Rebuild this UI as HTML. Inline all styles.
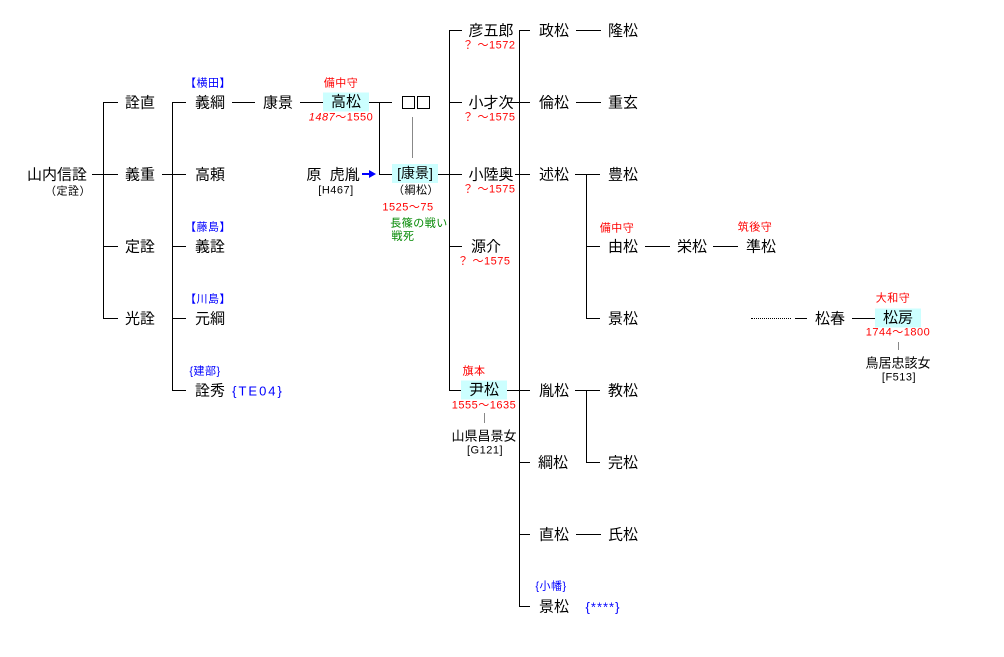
<!DOCTYPE html>
<html><head><meta charset="utf-8"><style>
body{margin:0;width:1004px;height:657px;background:#fff;position:relative;overflow:hidden;font-family:"Liberation Sans","Noto Sans CJK JP",sans-serif;}
.t{position:absolute;transform:translate(-50%,-50%);white-space:nowrap;font-size:15px;color:#000;line-height:1;}
.s{font-size:11px;letter-spacing:0.5px;}
.r{color:#f00;}
.b{color:#00f;}
.g{color:#080;}
.bx{background:#ccffff;padding:2px 0;width:46px;text-align:center;}
.h{position:absolute;height:1px;background:#000;}
.v{position:absolute;width:1px;background:#000;}
.gr{background:#888;}
.sq{position:absolute;width:11px;height:11px;border:1px solid #000;}
</style></head><body>
<div class="h" style="left:92px;top:174px;width:26px"></div>
<div class="v" style="left:103px;top:102px;height:217px"></div>
<div class="h" style="left:103px;top:102px;width:15px"></div>
<div class="h" style="left:103px;top:246px;width:15px"></div>
<div class="h" style="left:103px;top:318px;width:15px"></div>
<div class="h" style="left:162px;top:174px;width:24px"></div>
<div class="v" style="left:172px;top:102px;height:289px"></div>
<div class="h" style="left:172px;top:102px;width:14px"></div>
<div class="h" style="left:172px;top:246px;width:14px"></div>
<div class="h" style="left:172px;top:318px;width:14px"></div>
<div class="h" style="left:172px;top:390px;width:14px"></div>
<div class="h" style="left:232px;top:102px;width:23px"></div>
<div class="h" style="left:300px;top:102px;width:23px"></div>
<div class="h" style="left:369px;top:102px;width:23px"></div>
<div class="v" style="left:379px;top:102px;height:72px"></div>
<div class="h" style="left:379px;top:174px;width:13px"></div>
<div class="v gr" style="left:412px;top:117px;height:41px"></div>
<div class="h" style="left:362px;top:173px;width:8px;background:#00f;height:2px"></div>
<div style="position:absolute;left:369px;top:170px;width:0;height:0;border-left:7px solid #00f;border-top:4px solid transparent;border-bottom:4px solid transparent"></div>
<div class="h" style="left:438px;top:174px;width:24px"></div>
<div class="v" style="left:449px;top:30px;height:361px"></div>
<div class="h" style="left:449px;top:30px;width:13px"></div>
<div class="h" style="left:449px;top:102px;width:13px"></div>
<div class="h" style="left:449px;top:246px;width:13px"></div>
<div class="h" style="left:449px;top:390px;width:13px"></div>
<div class="v gr" style="left:484px;top:413px;height:10px"></div>
<div class="v" style="left:519px;top:30px;height:577px"></div>
<div class="h" style="left:519px;top:30px;width:11px"></div>
<div class="h" style="left:507px;top:102px;width:23px"></div>
<div class="h" style="left:515px;top:174px;width:15px"></div>
<div class="h" style="left:507px;top:390px;width:23px"></div>
<div class="h" style="left:519px;top:462px;width:11px"></div>
<div class="h" style="left:519px;top:534px;width:11px"></div>
<div class="h" style="left:519px;top:606px;width:11px"></div>
<div class="h" style="left:576px;top:30px;width:25px"></div>
<div class="h" style="left:576px;top:102px;width:25px"></div>
<div class="h" style="left:575px;top:174px;width:25px"></div>
<div class="v" style="left:586px;top:174px;height:145px"></div>
<div class="h" style="left:586px;top:246px;width:14px"></div>
<div class="h" style="left:586px;top:318px;width:14px"></div>
<div class="h" style="left:575px;top:390px;width:25px"></div>
<div class="v" style="left:586px;top:390px;height:73px"></div>
<div class="h" style="left:586px;top:462px;width:14px"></div>
<div class="h" style="left:576px;top:534px;width:25px"></div>
<div class="h" style="left:645px;top:246px;width:25px"></div>
<div class="h" style="left:713px;top:246px;width:25px"></div>
<div style="position:absolute;left:751px;top:318px;width:40px;border-top:1px dotted #000"></div>
<div class="h" style="left:795px;top:318px;width:12px"></div>
<div class="h" style="left:852px;top:318px;width:23px"></div>
<div class="v gr" style="left:898px;top:342px;height:8px"></div>
<div class="t" style="left:57px;top:175px">山内信詮</div>
<div class="t s" style="left:68px;top:192px">（定詮）</div>
<div class="t" style="left:140px;top:103px">詮直</div>
<div class="t" style="left:140px;top:175px">義重</div>
<div class="t" style="left:140px;top:247px">定詮</div>
<div class="t" style="left:140px;top:319px">光詮</div>
<div class="t s b" style="left:208px;top:84px">【横田】</div>
<div class="t" style="left:210px;top:103px">義綱</div>
<div class="t" style="left:210px;top:175px">高頼</div>
<div class="t s b" style="left:208px;top:228px">【藤島】</div>
<div class="t" style="left:210px;top:247px">義詮</div>
<div class="t s b" style="left:208px;top:300px">【川島】</div>
<div class="t" style="left:210px;top:319px">元綱</div>
<div class="t s b" style="left:205px;top:372px">{建部}</div>
<div class="t" style="left:210px;top:391px">詮秀</div>
<div class="t b" style="left:258px;top:391px;font-size:13px;letter-spacing:2px">{TE04}</div>
<div class="t" style="left:278px;top:103px">康景</div>
<div class="t s r" style="left:341px;top:84px">備中守</div>
<div class="t bx" style="left:346px;top:102px">高松</div>
<div class="t s r" style="left:341px;top:118px"><i>1487</i>〜1550</div>
<div class="sq" style="left:402px;top:96px"></div>
<div class="sq" style="left:417px;top:96px"></div>
<div class="t" style="left:333px;top:175px">原&nbsp;&nbsp;虎胤</div>
<div class="t s" style="left:336px;top:191px">[H467]</div>
<div style="position:absolute;left:392px;top:164px;width:46px;height:19px;background:#ccffff"></div>
<div class="t" style="left:415px;top:173px;font-size:14px">[康景]</div>
<div class="t s" style="left:416px;top:191px">（綱松）</div>
<div class="t s r" style="left:408px;top:208px">1525〜75</div>
<div class="t s g" style="left:419px;top:224px">長篠の戦い</div>
<div class="t s g" style="left:403px;top:237px">戦死</div>
<div class="t" style="left:491px;top:31px">彦五郎</div>
<div class="t s r" style="left:489px;top:46px">？ 〜1572</div>
<div class="t" style="left:491px;top:103px">小才次</div>
<div class="t s r" style="left:489px;top:118px">？ 〜1575</div>
<div class="t" style="left:491px;top:175px">小陸奥</div>
<div class="t s r" style="left:489px;top:190px">？ 〜1575</div>
<div class="t" style="left:486px;top:247px">源介</div>
<div class="t s r" style="left:484px;top:262px">？ 〜1575</div>
<div class="t s r" style="left:474px;top:372px">旗本</div>
<div class="t bx" style="left:484px;top:390px">尹松</div>
<div class="t s r" style="left:484px;top:406px">1555〜1635</div>
<div class="t" style="left:484px;top:436px;font-size:13px">山県昌景女</div>
<div class="t s" style="left:485px;top:451px">[G121]</div>
<div class="t" style="left:554px;top:31px">政松</div>
<div class="t" style="left:554px;top:103px">倫松</div>
<div class="t" style="left:554px;top:175px">述松</div>
<div class="t" style="left:554px;top:391px">胤松</div>
<div class="t" style="left:553px;top:463px">綱松</div>
<div class="t" style="left:554px;top:535px">直松</div>
<div class="t s b" style="left:551px;top:587px">{小幡}</div>
<div class="t" style="left:554px;top:607px">景松</div>
<div class="t b" style="left:603px;top:607px;font-size:13px;letter-spacing:1px">{****}</div>
<div class="t" style="left:623px;top:31px">隆松</div>
<div class="t" style="left:623px;top:103px">重玄</div>
<div class="t" style="left:623px;top:175px">豊松</div>
<div class="t s r" style="left:617px;top:229px">備中守</div>
<div class="t" style="left:623px;top:247px">由松</div>
<div class="t" style="left:623px;top:319px">景松</div>
<div class="t" style="left:623px;top:391px">教松</div>
<div class="t" style="left:623px;top:463px">完松</div>
<div class="t" style="left:623px;top:535px">氏松</div>
<div class="t" style="left:692px;top:247px">栄松</div>
<div class="t s r" style="left:755px;top:228px">筑後守</div>
<div class="t" style="left:761px;top:247px">準松</div>
<div class="t" style="left:830px;top:319px">松春</div>
<div class="t s r" style="left:893px;top:299px">大和守</div>
<div class="t bx" style="left:898px;top:318px">松房</div>
<div class="t s r" style="left:898px;top:333px">1744〜1800</div>
<div class="t" style="left:898px;top:363px;font-size:13px">鳥居忠該女</div>
<div class="t s" style="left:899px;top:378px">[F513]</div>
</body></html>
